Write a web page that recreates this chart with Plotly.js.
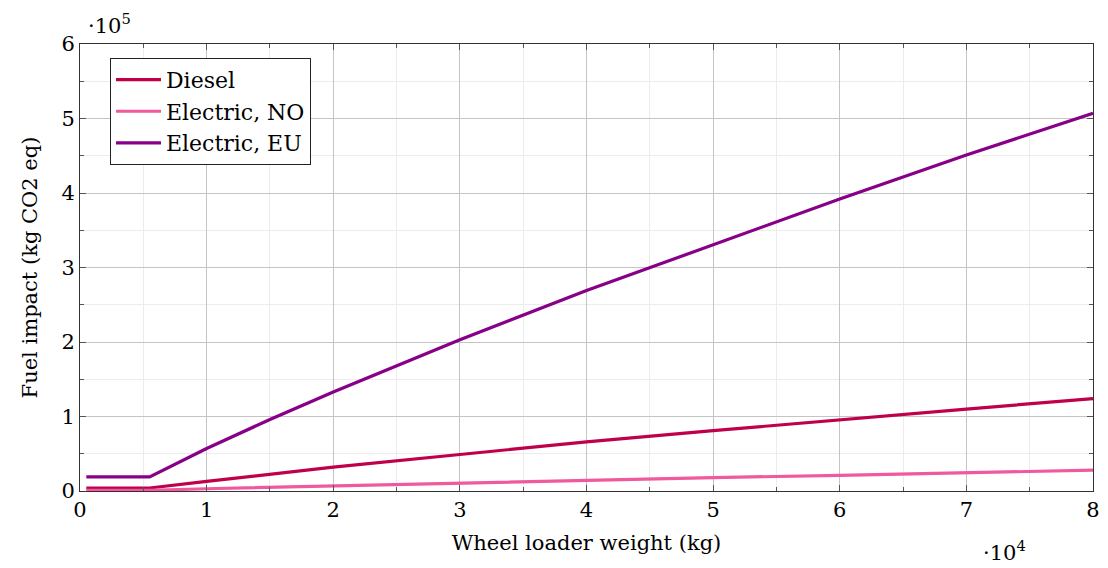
<!DOCTYPE html>
<html><head><meta charset="utf-8">
<script src="https://cdn.plot.ly/plotly-3.0.1.min.js"></script>
<style>body{margin:0;padding:0;background:#fff}#chart{width:1108px;height:568px}</style>
</head><body><div id="chart"></div>
<script>
// weight in units of 1e4 kg, impact in units of 1e5 kg CO2 eq
const weight = [0.05, 0.55, 1, 1.5, 2, 3, 4, 5, 6, 7, 8];
const diesel = [0.04, 0.04, 0.13, 0.23, 0.32, 0.49, 0.66, 0.81, 0.96, 1.10, 1.24];
const electricNO = [0.01, 0.01, 0.03, 0.05, 0.07, 0.11, 0.145, 0.18, 0.21, 0.245, 0.28];
const electricEU = [0.19, 0.19, 0.57, 0.96, 1.33, 2.03, 2.69, 3.31, 3.92, 4.51, 5.07];
const seriesNames = ["Diesel", "Electric, NO", "Electric, EU"];
const colors = ["#c0004a", "#f0599e", "#870087"];

const F = "'DejaVu Serif', serif";
const FS = 21;
const traces = [diesel, electricNO, electricEU].map((y, i) => ({
  x: weight, y: y, type: "scatter", mode: "lines", name: seriesNames[i],
  line: {color: colors[i], width: 3.2}
}));

const axisCommon = {
  showline: true, linecolor: "#333", linewidth: 1, mirror: "ticks",
  ticks: "inside", ticklen: 6, tickcolor: "#555", tickwidth: 1,
  showgrid: true, gridcolor: "#c4c4c4", gridwidth: 1, zeroline: false,
  tickfont: {family: F, size: FS, color: "#000"},
  minor: {dtick: 0.5, showgrid: true, gridcolor: "#ececec", ticks: "inside", ticklen: 4, tickcolor: "#555"}
};

const layout = {
  width: 1108, height: 568,
  margin: {l: 80, r: 15, t: 44, b: 77},
  paper_bgcolor: "#fff", plot_bgcolor: "#fff",
  font: {family: F, size: FS, color: "#000"},
  showlegend: true,
  legend: {x: 0.0296, y: 0.969, xanchor: "left", yanchor: "top",
    bgcolor: "#fff", bordercolor: "#222", borderwidth: 1, itemwidth: 45,
    font: {family: F, size: 22, color: "#000"}, tracegroupgap: 0},
  xaxis: Object.assign({}, axisCommon, {range: [0, 8], dtick: 1, tick0: 0,
    title: {text: "Wheel loader weight (kg)", font: {family: F, size: FS}, standoff: 14}}),
  yaxis: Object.assign({}, axisCommon, {range: [0, 6], dtick: 1, tick0: 0,
    title: {text: "Fuel impact (kg CO2 eq)", font: {family: F, size: FS}, standoff: 18}}),
  annotations: [
    {text: "·10<sup>5</sup>", xref: "paper", yref: "paper", x: 0.006, y: 1.0, xanchor: "left", yanchor: "bottom", yshift: 4, showarrow: false, font: {family: F, size: FS}},
    {text: "·10<sup>4</sup>", xref: "paper", yref: "paper", x: 0.913, y: 0, xanchor: "center", yanchor: "top", yshift: -44, showarrow: false, font: {family: F, size: FS}}
  ]
};
Plotly.newPlot("chart", traces, layout, {displayModeBar: false, staticPlot: true});
</script></body></html>
